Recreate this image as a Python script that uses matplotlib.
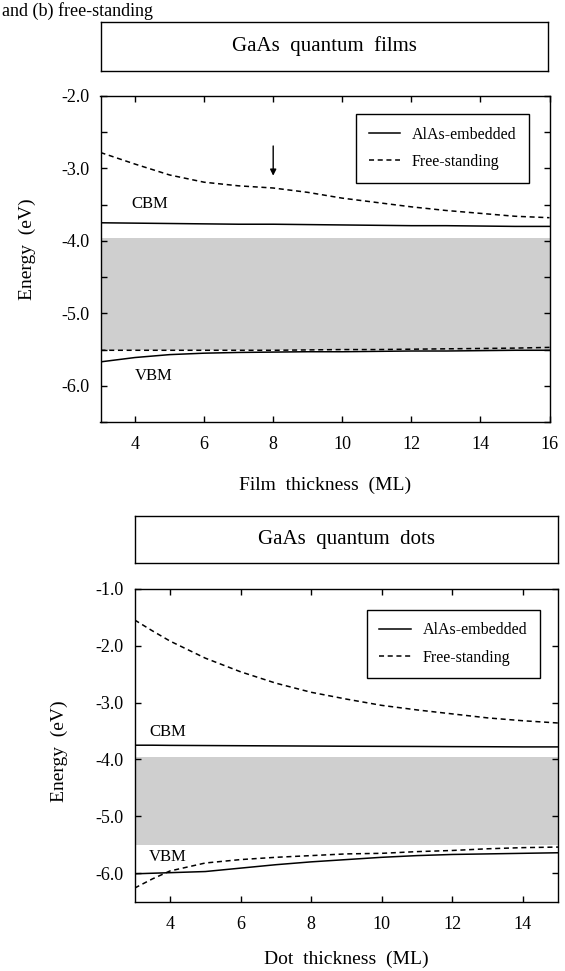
import numpy as np
import matplotlib
matplotlib.use("Agg")
import matplotlib.pyplot as plt
from matplotlib.ticker import MultipleLocator, FormatStrFormatter

plt.rcParams['font.family'] = ['Liberation Serif', 'DejaVu Serif']
plt.rcParams['axes.unicode_minus'] = False

# --- data (energies in eV) ---
film_x = [3, 4, 5, 6, 7, 8, 9, 10, 11, 12, 13, 14, 15, 16]
film_emb_cbm = [-3.75, -3.755, -3.76, -3.765, -3.77, -3.77, -3.775, -3.78,
                -3.785, -3.79, -3.79, -3.795, -3.80, -3.80]
film_free_cbm = [-2.78, -2.94, -3.09, -3.19, -3.24, -3.27, -3.33, -3.41,
                 -3.47, -3.53, -3.58, -3.62, -3.66, -3.68]
film_emb_vbm = [-5.67, -5.61, -5.57, -5.55, -5.54, -5.535, -5.53, -5.53,
                -5.525, -5.52, -5.52, -5.515, -5.51, -5.51]
film_free_vbm = [-5.51, -5.51, -5.51, -5.51, -5.51, -5.51, -5.505, -5.50,
                 -5.50, -5.495, -5.49, -5.485, -5.48, -5.47]

dot_x = [3, 3.5, 4, 5, 6, 7, 8, 9, 10, 11, 12, 13, 14, 15]
dot_emb_cbm = [-3.75, -3.75, -3.753, -3.756, -3.759, -3.762, -3.765, -3.768,
               -3.77, -3.772, -3.775, -3.777, -3.78, -3.78]
dot_free_cbm = [-1.55, -1.74, -1.92, -2.22, -2.46, -2.66, -2.82, -2.94,
                -3.05, -3.13, -3.20, -3.27, -3.32, -3.36]
dot_emb_vbm = [-6.01, -6.00, -5.99, -5.97, -5.91, -5.85, -5.80, -5.76,
               -5.72, -5.69, -5.67, -5.66, -5.65, -5.64]
dot_free_vbm = [-6.26, -6.10, -5.96, -5.82, -5.76, -5.72, -5.69, -5.66,
                -5.65, -5.62, -5.60, -5.57, -5.55, -5.54]

# grey band (bulk region)
band_lo = -5.50
band_hi = -3.96

W, H = 565, 971
fig = plt.figure(figsize=(W / 100, H / 100), dpi=100)
fig.patch.set_facecolor('white')


def px_axes(x0, y0, x1, y1):
    # pixel box (top-left origin) -> figure axes
    return fig.add_axes([x0 / W, 1 - y1 / H, (x1 - x0) / W, (y1 - y0) / H])


def title_box(x0, y0, x1, y1, txt):
    bx = px_axes(x0, y0, x1, y1)
    bx.set_xticks([])
    bx.set_yticks([])
    for s in bx.spines.values():
        s.set_linewidth(1.0)
    bx.text(0.5, 0.5, txt, ha='center', va='center', fontsize=15,
            transform=bx.transAxes)


def panel(ax, x, emb_c, free_c, emb_v, free_v, xlim, ylim, yminor, xlabel,
          xlab_y, leg_anchor):
    ax.fill_between([xlim[0], xlim[1]], band_lo, band_hi, color='0.81',
                    lw=0, zorder=1)
    ax.plot(x, emb_c, 'k-', lw=1.1, zorder=3, label='AlAs-embedded')
    ax.plot(x, free_c, 'k', ls=(0, (3.3, 2.4)), lw=1.1, zorder=3,
            label='Free-standing')
    ax.plot(x, emb_v, 'k-', lw=1.1, zorder=3)
    ax.plot(x, free_v, 'k', ls=(0, (3.3, 2.4)), lw=1.1, zorder=3)
    ax.set_xlim(*xlim)
    ax.set_ylim(*ylim)
    ax.xaxis.set_major_locator(MultipleLocator(2))
    ax.yaxis.set_major_locator(MultipleLocator(1.0))
    ax.yaxis.set_major_formatter(FormatStrFormatter('%.1f'))
    if yminor:
        ax.yaxis.set_minor_locator(MultipleLocator(0.5))
    ax.tick_params(which='both', direction='in', top=True, right=True,
                   length=4.5, width=1.0, labelsize=13)
    ax.tick_params(axis='x', pad=10)
    ax.tick_params(axis='y', pad=8)
    for s in ax.spines.values():
        s.set_linewidth(1.0)
    leg = ax.legend(loc='upper right', bbox_to_anchor=leg_anchor,
                    borderaxespad=0, fontsize=11.5, frameon=True,
                    fancybox=False, edgecolor='black', framealpha=1,
                    handlelength=1.95, handletextpad=0.75, borderpad=0.8,
                    labelspacing=0.7)
    leg.get_frame().set_linewidth(1.0)
    ax.text(0.5, xlab_y, xlabel, transform=ax.transAxes, ha='center',
            va='center', fontsize=14)


# ---------- top panel: films ----------
title_box(100.5, 22, 548, 71, 'GaAs  quantum  films')
ax1 = px_axes(100.5, 96, 549.5, 422)
panel(ax1, film_x, film_emb_cbm, film_free_cbm, film_emb_vbm, film_free_vbm,
      (3, 16), (-6.5, -2.0), True, 'Film  thickness  (ML)', -0.195,
      (0.955, 0.945))
ax1.text(-0.163, 0.53, 'Energy  (eV)', transform=ax1.transAxes, rotation=90,
         ha='center', va='center', fontsize=14)
ax1.text(3.9, -3.49, 'CBM', ha='left', va='center', fontsize=12)
ax1.text(4.0, -5.87, 'VBM', ha='left', va='center', fontsize=12)
ax1.annotate('', xy=(8.0, -3.10), xytext=(8.0, -2.69),
             arrowprops=dict(arrowstyle='-|>', color='black', lw=1.0,
                             mutation_scale=9, shrinkA=0, shrinkB=0))

# ---------- bottom panel: dots ----------
title_box(134.7, 516, 558.1, 563, 'GaAs  quantum  dots')
ax2 = px_axes(134.7, 588.7, 558.1, 901.7)
panel(ax2, dot_x, dot_emb_cbm, dot_free_cbm, dot_emb_vbm, dot_free_vbm,
      (3, 15), (-6.5, -1.0), False, 'Dot  thickness  (ML)', -0.185,
      (0.957, 0.933))
ax2.text(-0.177, 0.48, 'Energy  (eV)', transform=ax2.transAxes, rotation=90,
         ha='center', va='center', fontsize=14)
ax2.text(3.41, -3.52, 'CBM', ha='left', va='center', fontsize=12)
ax2.text(3.41, -5.71, 'VBM', ha='left', va='center', fontsize=12)

# caption fragment at the top of the scan
fig.text(2 / W, 1 - 2 / H, 'and (b) free-standing', ha='left', va='top',
         fontsize=13)

fig.savefig('out.png', dpi=100)
